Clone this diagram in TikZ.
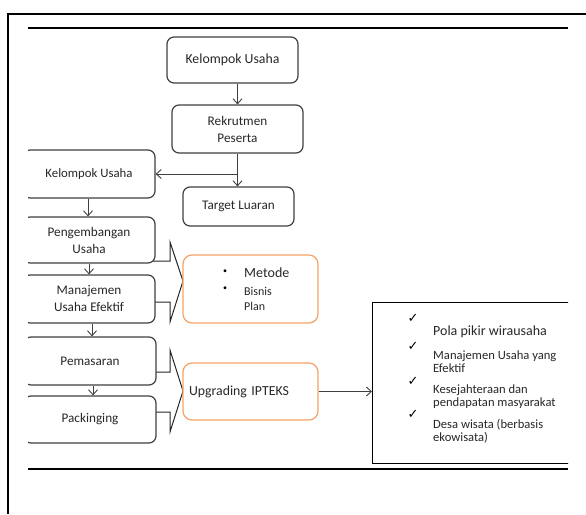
\documentclass[tikz,border=0pt]{standalone}
\usepackage{fontspec}
\setmainfont{Carlito}
\newfontfamily\checkfont{DejaVu Sans}
\usetikzlibrary{arrows.meta,positioning,calc}
\definecolor{boxline}{RGB}{64,64,64}
\definecolor{boxtext}{RGB}{40,40,40}
\definecolor{orangeline}{RGB}{244,162,104}
\tikzset{
  flowbox/.style={draw=boxline, line width=1.2pt, rounded corners=7pt, fill=white, text=boxtext,
    align=center, inner sep=0pt, font=\fontsize{13.2}{17}\selectfont},
  methodbox/.style={draw=orangeline, line width=1.2pt, rounded corners=9pt, fill=white, text=boxtext,
    inner sep=0pt, minimum width=135pt, font=\fontsize{13.8}{17}\selectfont},
  flowarrow/.style={draw=boxline, line width=0.9pt, -{Straight Barb[length=5pt,width=9pt]}},
  blockarrow/.style={draw=black!85, line width=1pt, fill=white, line join=miter},
  checktext/.style={anchor=west, inner sep=0pt, align=left, text=boxtext, font=\fontsize{12.6}{13}\selectfont},
  tick/.style={inner sep=0pt, font=\checkfont\fontsize{13}{13}\selectfont},
}

\begin{document}
\begin{tikzpicture}[x=1pt,y=-1pt]
\useasboundingbox (0,0) rectangle (586,514);
% frame and rules
\draw[line width=1.3pt] (8,514) -- (8,14) -- (586,14);
\draw[line width=1.6pt] (28,28) -- (568,28);
\draw[line width=1.6pt] (28,469) -- (568,469);

\begin{scope}
\clip (28,20) rectangle (568,475);
% block arrows
\draw[blockarrow] (150,261) -- (170,261) -- (170,242) -- (183,281) -- (170,322) -- (170,302) -- (150,302);
\draw[blockarrow] (150,372) -- (170,372) -- (170,350) -- (183,391) -- (170,432) -- (170,412) -- (150,412);

% main column
\node[flowbox, minimum width=131pt, minimum height=46pt, font=\fontsize{13.8}{17}\selectfont] (group) at (232.5,60) {Kelompok Usaha};
\node[flowbox, minimum width=131pt, minimum height=48pt] (recruit) at (237.5,129) {Rekrutmen\\Peserta};
\node[flowbox, minimum width=111pt, minimum height=39pt] (target) at (238.5,206.5) {Target Luaran};

% left column
\node[flowbox, minimum width=132pt, minimum height=48pt, font=\fontsize{12.8}{17}\selectfont] (subgroup) at (89,174) {Kelompok Usaha};
\node[flowbox, minimum width=132pt, minimum height=46pt] (develop) at (89,240) {Pengembangan\\Usaha};
\node[flowbox, minimum width=132pt, minimum height=48pt] (manage) at (89,299) {Manajemen\\Usaha Efektif};
\node[flowbox, minimum width=132pt, minimum height=48pt] (market) at (90,361) {Pemasaran};
\node[flowbox, minimum width=132pt, minimum height=47pt] (pack) at (90,419.5) {Packinging};

% orange boxes
\node[methodbox, minimum height=68pt] (method) at (250.5,289) {};
\node[inner sep=0pt, scale=0.8] (bullet1) at (225,272) {\textbullet};
\node[inner sep=0pt, anchor=west, text=boxtext, font=\fontsize{14}{16}\selectfont] (metode) at (244,273) {Metode};
\node[inner sep=0pt, scale=0.8] (bullet2) at (225,289) {\textbullet};
\node[inner sep=0pt, anchor=west, align=left, text=boxtext, font=\fontsize{12}{15.5}\selectfont] (plan) at (244,299) {Bisnis\\Plan};
\node[methodbox, minimum height=57pt, text width=123pt, align=left] (upgrade) at (250.5,391.5) {Upgrading IPTEKS};

% outcome box
\node[draw, line width=1.2pt, fill=white, minimum width=230pt, minimum height=161pt, anchor=north west, inner sep=0pt] (result) at (372,302) {};
\node[tick] (tick1) at (413,318) {✓};
\node[checktext, font=\fontsize{14}{14}\selectfont] (out1) at (433,332) {Pola pikir wirausaha};
\node[tick] (tick2) at (413,346) {✓};
\node[checktext] (out2) at (433,362) {Manajemen Usaha yang\\Efektif};
\node[tick] (tick3) at (413,381) {✓};
\node[checktext] (out3) at (433,396.5) {Kesejahteraan dan\\pendapatan masyarakat};
\node[tick] (tick4) at (413,414) {✓};
\node[checktext] (out4) at (433,431) {Desa wisata (berbasis\\ekowisata)};

% connectors
\draw[flowarrow] (recruit.north |- group.south) -- (recruit.north);
\draw[flowarrow] (recruit.south) -- (recruit.south |- target.north);
\draw[flowarrow] (recruit.south |- subgroup.east) -- (subgroup.east);
\draw[flowarrow] ([xshift=-1pt]subgroup.south) -- ([xshift=-1pt]subgroup.south |- develop.north);
\draw[flowarrow] (develop.south) -- (manage.north);
\draw[flowarrow] ([xshift=3pt]manage.south) -- ([xshift=3pt]manage.south |- market.north);
\draw[flowarrow] ([xshift=3pt]market.south) -- ([xshift=3pt]market.south |- pack.north);
\draw[flowarrow] (upgrade.east) -- (result.west |- upgrade.east);
\end{scope}
\end{tikzpicture}
\end{document}
